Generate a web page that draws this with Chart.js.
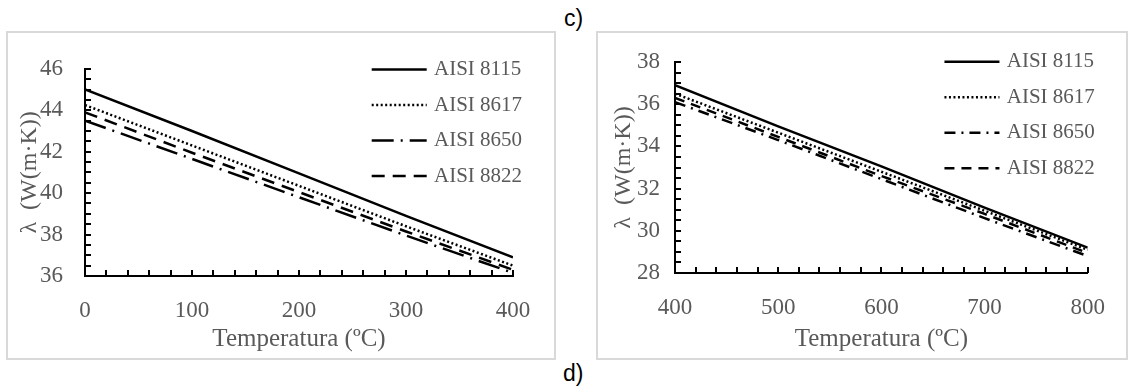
<!DOCTYPE html>
<html>
<head>
<meta charset="utf-8">
<script src="https://cdn.jsdelivr.net/npm/chart.js@4/dist/chart.umd.min.js"></script>
<style>
  html, body { margin: 0; padding: 0; background: #fff; width: 1141px; height: 389px; overflow: hidden; position: relative; }
  .panel { position: absolute; top: 31px; height: 325px; border: 2px solid #d9d9d9; background: #fff; }
  #p1 { left: 6px; width: 546px; }
  #p2 { left: 596px; width: 528px; }
  canvas { display: block; }
  .tag { position: absolute; font-family: "Liberation Sans", Arial, sans-serif; font-size: 23px; line-height: 1; color: #000; }
</style>
</head>
<body>
<div class="panel" id="p1"><canvas id="c1" width="546" height="325"></canvas></div>
<div class="panel" id="p2"><canvas id="c2" width="528" height="325"></canvas></div>
<div class="tag" style="left:564px; top:7px;">c)</div>
<div class="tag" style="left:563px; top:362px;">d)</div>

<script>
// Thermal conductivity of four AISI steels vs temperature
const seriesNames = ['AISI 8115', 'AISI 8617', 'AISI 8650', 'AISI 8822'];

// 0–400 ºC range
const tempsLow = [0, 100, 200, 300, 400];
const aisi8115Low = [45.0, 43.0, 40.95, 38.9, 36.9];
const aisi8617Low = [44.25, 42.3, 40.35, 38.4, 36.5];
const aisi8650Low = [43.5, 41.65, 39.8, 37.95, 36.15];
const aisi8822Low = [43.9, 41.95, 40.05, 38.15, 36.3];
const yTicksLow = [36, 38, 40, 42, 44, 46];
const xTicksLow = [0, 100, 200, 300, 400];

// 400–800 ºC range
const tempsHigh = [400, 500, 600, 700, 800];
const aisi8115High = [36.9, 34.95, 33.05, 31.1, 29.2];
const aisi8617High = [36.5, 34.65, 32.8, 30.95, 29.1];
const aisi8650High = [36.1, 34.3, 32.45, 30.6, 28.8];
const aisi8822High = [36.3, 34.45, 32.6, 30.8, 28.95];
const yTicksHigh = [28, 30, 32, 34, 36, 38];
const xTicksHigh = [400, 500, 600, 700, 800];

const textGray = '#595959';
const serif = '"Liberation Serif", "DejaVu Serif", serif';

// small inward tick marks along both axes
const insideTicks = {
  id: 'insideTicks',
  afterDatasetsDraw(chart, args, o) {
    const { ctx, scales: { x, y } } = chart;
    const a = chart.chartArea;
    ctx.save();
    ctx.strokeStyle = '#000';
    ctx.lineWidth = 2;
    ctx.beginPath();
    for (let v = y.min + o.yStep; v <= y.max + 1e-9; v += o.yStep) {
      const py = Math.round(y.getPixelForValue(v));
      ctx.moveTo(a.left, py);
      ctx.lineTo(a.left + o.len, py);
    }
    for (let v = x.min + o.xStep; v <= x.max + 1e-9; v += o.xStep) {
      const px = Math.round(x.getPixelForValue(v));
      ctx.moveTo(px, a.bottom);
      ctx.lineTo(px, a.bottom - o.len);
    }
    ctx.stroke();
    ctx.restore();
  }
};

// legend drawn inside the plot, top right
const inlineLegend = {
  id: 'inlineLegend',
  afterDraw(chart, args, o) {
    const { ctx } = chart;
    const a = chart.chartArea;
    chart.data.datasets.forEach((ds, i) => {
      const yy = a.top + o.top + i * o.gap;
      ctx.save();
      ctx.strokeStyle = ds.borderColor;
      ctx.lineWidth = ds.borderWidth;
      ctx.setLineDash(ds.borderDash || []);
      ctx.beginPath();
      ctx.moveTo(a.right - o.lineStart, yy);
      ctx.lineTo(a.right - o.lineEnd, yy);
      ctx.stroke();
      ctx.setLineDash([]);
      ctx.fillStyle = textGray;
      ctx.font = '21px ' + serif;
      ctx.textAlign = 'left';
      ctx.textBaseline = 'middle';
      ctx.fillText(ds.label, a.right - o.textStart, yy);
      ctx.restore();
    });
  }
};

function makeChart(id, temps, values, dashes, cfg) {
  const datasets = values.map((vals, i) => ({
    label: seriesNames[i],
    data: temps.map((t, j) => ({ x: t, y: vals[j] })),
    borderColor: '#000',
    borderWidth: 2.5,
    borderDash: dashes[i],
    pointRadius: 0,
    tension: 0,
    fill: false
  }));
  return new Chart(document.getElementById(id), {
    type: 'line',
    data: { datasets },
    options: {
      responsive: false,
      animation: false,
      devicePixelRatio: 1,
      layout: { padding: { top: cfg.padTop, right: cfg.padRight, left: 0, bottom: 0 } },
      plugins: {
        legend: { display: false },
        tooltip: { enabled: false },
        insideTicks: { xStep: 20, yStep: 0.5, len: 6 },
        inlineLegend: cfg.legend
      },
      scales: {
        x: {
          type: 'linear',
          min: cfg.xTicks[0],
          max: cfg.xTicks[cfg.xTicks.length - 1],
          afterBuildTicks(s) { s.ticks = cfg.xTicks.map(v => ({ value: v })); },
          border: { display: true, color: '#000', width: 2 },
          grid: { drawOnChartArea: false, drawTicks: false },
          ticks: { color: textGray, font: { family: serif, size: 23 }, padding: 21, maxRotation: 0, autoSkip: false },
          title: { display: true, text: 'Temperatura (ºC)', color: textGray, font: { family: serif, size: 25 }, padding: { top: 0, bottom: 4 } },
          afterFit(s) { s.height = cfg.xHeight; }
        },
        y: {
          type: 'linear',
          min: cfg.yTicks[0],
          max: cfg.yTicks[cfg.yTicks.length - 1],
          afterBuildTicks(s) { s.ticks = cfg.yTicks.map(v => ({ value: v })); },
          border: { display: true, color: '#000', width: 2 },
          grid: { drawOnChartArea: false, drawTicks: false },
          ticks: { color: textGray, font: { family: serif, size: 23 }, padding: cfg.yPad, autoSkip: false },
          title: { display: true, text: 'λ  (W(m·K))', color: textGray, font: { family: serif, size: 24 }, padding: { top: cfg.yTitlePad, bottom: 0 } },
          afterFit(s) { s.width = 77; }
        }
      }
    },
    plugins: [insideTicks, inlineLegend]
  });
}

makeChart('c1', tempsLow,
  [aisi8115Low, aisi8617Low, aisi8650Low, aisi8822Low],
  [[], [2, 2.5], [22, 7, 2, 7], [13, 8]],
  { padTop: 28, padRight: 41, xHeight: 82, yPad: 22, yTitlePad: 7.6,
    xTicks: xTicksLow, yTicks: yTicksLow,
    legend: { top: 0.7, gap: 35.5, lineStart: 141.3, lineEnd: 86.3, textStart: 79 } });

makeChart('c2', tempsHigh,
  [aisi8115High, aisi8617High, aisi8650High, aisi8822High],
  [[], [2, 2.5], [11, 6, 2, 6], [10, 7]],
  { padTop: 29, padRight: 21, xHeight: 85, yPad: 15, yTitlePad: 11,
    xTicks: xTicksHigh, yTicks: yTicksHigh,
    legend: { top: -0.3, gap: 35.5, lineStart: 143.3, lineEnd: 88.3, textStart: 81 } });
</script>
</body>
</html>
